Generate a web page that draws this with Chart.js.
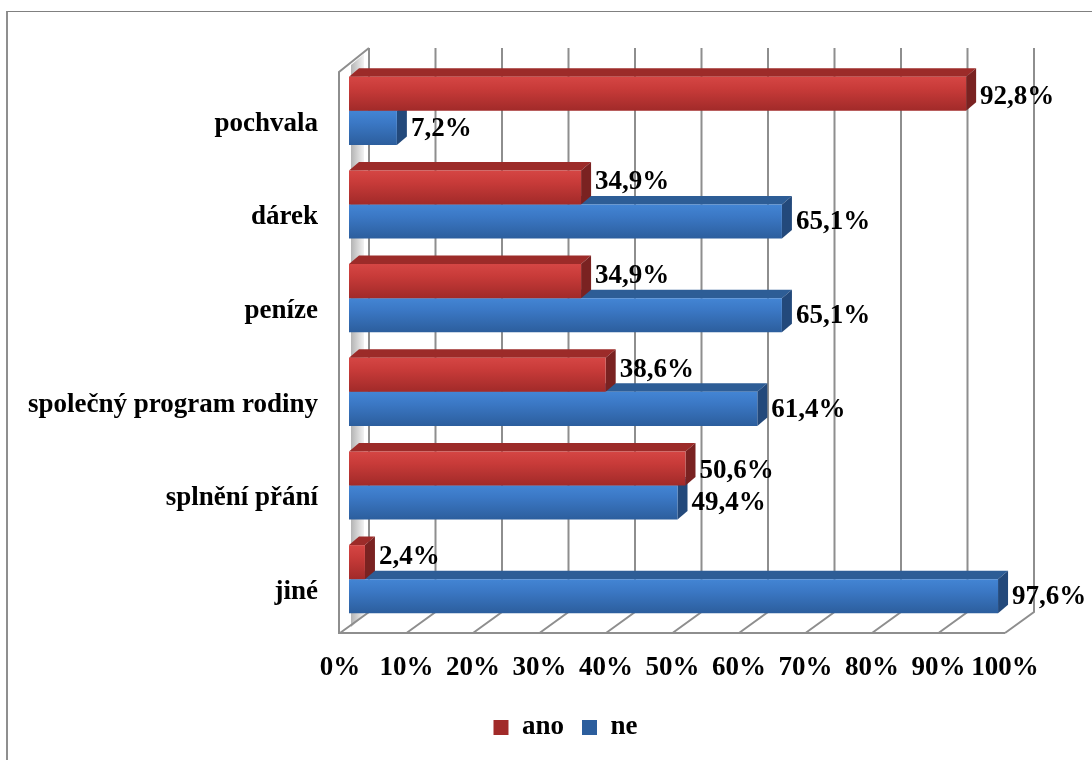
<!DOCTYPE html>
<html>
<head>
<meta charset="utf-8">
<script src="https://cdn.jsdelivr.net/npm/chart.js@4.4.1/dist/chart.umd.min.js"></script>
<style>
  html, body { margin: 0; padding: 0; background: #ffffff; overflow: hidden; }
  #frame { position: absolute; left: 6px; top: 11px; width: 1200px; height: 900px;
           border-left: 2px solid #8f8f8f; border-top: 1px solid #808080; }
  #c { position: absolute; left: 0; top: 0; }
</style>
</head>
<body>
<div id="frame"></div>
<canvas id="c" width="1092" height="760"></canvas>
<script>
// ---- data ----
const categories = ['pochvala', 'dárek', 'peníze', 'společný program rodiny', 'splnění přání', 'jiné'];
const seriesNames = ['ano', 'ne'];
const anoValues = [92.8, 34.9, 34.9, 38.6, 50.6, 2.4];
const neValues = [7.2, 65.1, 65.1, 61.4, 49.4, 97.6];
const xTickValues = [0, 10, 20, 30, 40, 50, 60, 70, 80, 90, 100];

// ---- style ----
const FONT = "'Liberation Serif', 'Times New Roman', serif";
const FSIZE = 27;
const CAT_PCT = 0.727;
const D = 10, DY = 8.5; // bar depth offsets
const GRID_COLOR = '#8e8e8e';

const palettes = [
  { stops: [[0, '#d54644'], [0.35, '#c83b39'], [1, '#a12a29']], top: '#9c2b29', side: '#7a2221', solid: '#c0393a' },
  { stops: [[0, '#4385d4'], [0.35, '#3b78c5'], [1, '#2c5e9d']], top: '#2d5d96', side: '#23497b', solid: '#3a74c0' }
];

function frontFill(ctx) {
  const p = palettes[ctx.datasetIndex];
  if (ctx.type !== 'data' || ctx.dataIndex == null) return p.solid;
  const chart = ctx.chart, ys = chart.scales.y;
  if (!ys || !chart.chartArea) return p.solid;
  const c = ys.getPixelForValue(ctx.dataIndex);
  const step = Math.abs(ys.getPixelForValue(1) - ys.getPixelForValue(0));
  const h = step * CAT_PCT / 2;
  const y0 = ctx.datasetIndex === 0 ? c - h : c;
  const g = chart.ctx.createLinearGradient(0, y0, 0, y0 + h);
  p.stops.forEach(s => g.addColorStop(s[0], s[1]));
  return g;
}

const fmt = v => v.toFixed(1).replace('.', ',') + '%';

const scene3d = {
  id: 'scene3d',
  afterLayout(chart) {
    if (chart.legend) chart.legend.left = 117;
  },
  beforeDatasetsDraw(chart) {
    const ctx = chart.ctx, xs = chart.scales.x;
    const { top, bottom } = chart.chartArea;
    const backTop = top - 16, backBottom = bottom - 14, floorY = bottom + 7;
    const x0 = xs.getPixelForValue(0);
    ctx.save();
    // left wall inner face
    const g = ctx.createLinearGradient(x0 + 2, 0, x0 + 15, 0);
    g.addColorStop(0, '#b4b4b4'); g.addColorStop(1, '#f2f2f2');
    ctx.fillStyle = g;
    ctx.beginPath();
    ctx.moveTo(x0 + 2, top + 1); ctx.lineTo(x0 + 15, top - 10);
    ctx.lineTo(x0 + 15, backBottom + 4); ctx.lineTo(x0 + 2, floorY - 6);
    ctx.closePath(); ctx.fill();
    // back wall grid + floor diagonals
    ctx.strokeStyle = GRID_COLOR; ctx.lineWidth = 2;
    xTickValues.forEach(v => {
      const xb = xs.getPixelForValue(v) + 20;
      ctx.beginPath();
      ctx.moveTo(xb, backTop); ctx.lineTo(xb, backBottom); ctx.lineTo(xb - 29, floorY);
      ctx.stroke();
    });
    // floor front edge
    ctx.beginPath();
    ctx.moveTo(x0 - 11, floorY); ctx.lineTo(xs.getPixelForValue(100) - 9, floorY);
    ctx.stroke();
    // left wall outline
    ctx.beginPath();
    ctx.moveTo(x0 - 10, floorY); ctx.lineTo(x0 - 10, top + 8); ctx.lineTo(x0 + 20, backTop);
    ctx.stroke();
    // 3D faces (drawn behind the front faces)
    [1, 0].forEach(di => {
      const p = palettes[di];
      chart.getDatasetMeta(di).data.forEach(el => {
        const xEnd = el.x, xBase = el.base, yT = el.y - el.height / 2, yB = el.y + el.height / 2;
        ctx.fillStyle = p.top;
        ctx.beginPath();
        ctx.moveTo(xBase, yT); ctx.lineTo(xBase + D, yT - DY); ctx.lineTo(xEnd + D, yT - DY); ctx.lineTo(xEnd, yT);
        ctx.closePath(); ctx.fill();
        ctx.fillStyle = p.side;
        ctx.beginPath();
        ctx.moveTo(xEnd, yT); ctx.lineTo(xEnd + D, yT - DY); ctx.lineTo(xEnd + D, yB - DY); ctx.lineTo(xEnd, yB);
        ctx.closePath(); ctx.fill();
      });
    });
    ctx.restore();
  },
  afterDatasetsDraw(chart) {
    const ctx = chart.ctx;
    const sets = chart.data.datasets;
    ctx.save();
    ctx.font = 'bold ' + FSIZE + 'px ' + FONT;
    ctx.fillStyle = '#000';
    ctx.textAlign = 'left';
    ctx.textBaseline = 'middle';
    sets.forEach((ds, di) => {
      chart.getDatasetMeta(di).data.forEach((el, i) => {
        let dy;
        if (di === 0) dy = (ds.data[i] < sets[1].data[i]) ? -5 : 3;
        else dy = 1;
        ctx.fillText(fmt(ds.data[i]), el.x + D + 4, el.y + dy);
      });
    });
    ctx.restore();
  }
};

new Chart(document.getElementById('c'), {
  type: 'bar',
  data: {
    labels: categories,
    datasets: [
      { label: seriesNames[0], data: anoValues, backgroundColor: frontFill, borderWidth: 0 },
      { label: seriesNames[1], data: neValues, backgroundColor: frontFill, borderWidth: 0 }
    ]
  },
  options: {
    indexAxis: 'y',
    responsive: false,
    animation: false,
    devicePixelRatio: 1,
    categoryPercentage: CAT_PCT,
    barPercentage: 1,
    layout: { padding: { left: 0, right: 78, top: 64, bottom: 9 } },
    scales: {
      x: {
        min: 0, max: 100,
        grid: { display: false, drawTicks: false },
        border: { display: false },
        afterBuildTicks: s => { s.ticks = xTickValues.map(v => ({ value: v })); },
        afterFit: s => { s.height = 70; },
        ticks: {
          autoSkip: false, maxRotation: 0, padding: 26, labelOffset: -9,
          color: '#000', font: { family: FONT, size: FSIZE, weight: 'bold' },
          callback: v => v + '%'
        }
      },
      y: {
        grid: { display: false, drawTicks: false },
        border: { display: false },
        afterFit: s => { s.width = 349; },
        ticks: {
          padding: 31, labelOffset: 13,
          color: '#000', font: { family: FONT, size: FSIZE, weight: 'bold' }
        }
      }
    },
    plugins: {
      legend: {
        position: 'bottom',
        labels: {
          boxWidth: 15, boxHeight: 15, padding: 18, color: '#000',
          font: { family: FONT, size: FSIZE, weight: 'bold' }
        }
      },
      tooltip: { enabled: false }
    }
  },
  plugins: [scene3d]
});
</script>
</body>
</html>
